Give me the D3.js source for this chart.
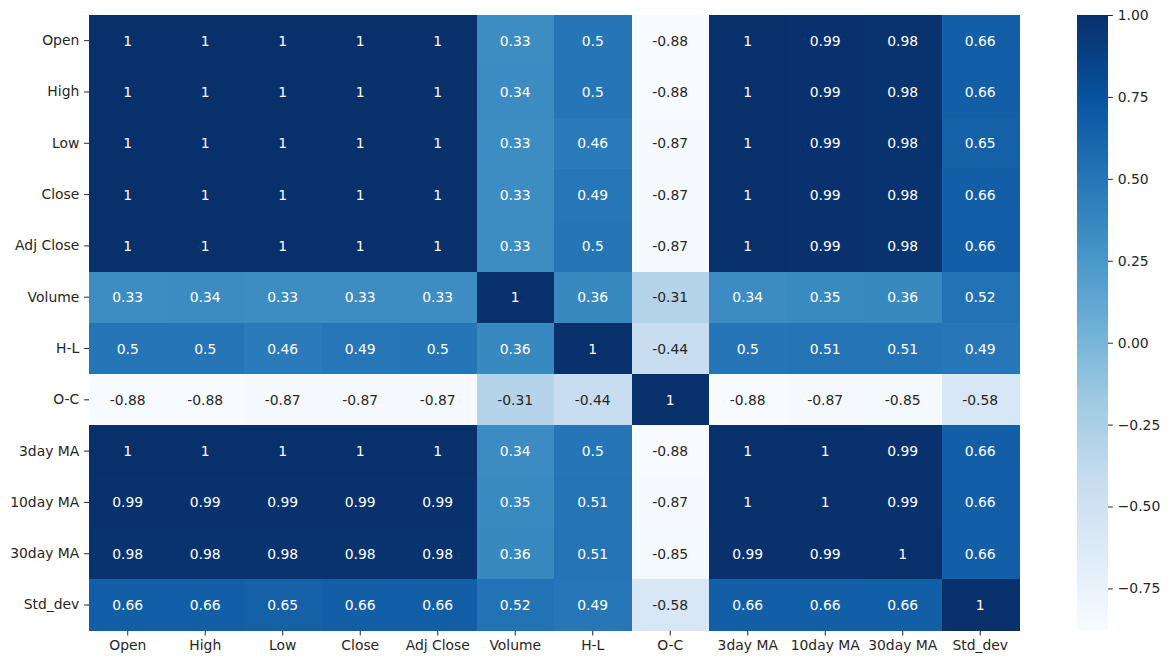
<!DOCTYPE html>
<html><head><meta charset="utf-8">
<script src="https://cdn.jsdelivr.net/npm/d3@7"></script>
<style>body{margin:0;background:#fff;} text{font-family:"DejaVu Sans",sans-serif;}</style>
</head><body>
<svg id="chart" width="1169" height="665"></svg>
<script>
const labels = ["Open","High","Low","Close","Adj Close","Volume","H-L","O-C","3day MA","10day MA","30day MA","Std_dev"];
const rowOpen     = [1,1,1,1,1,0.33,0.5,-0.88,1,0.99,0.98,0.66];
const rowHigh     = [1,1,1,1,1,0.34,0.5,-0.88,1,0.99,0.98,0.66];
const rowLow      = [1,1,1,1,1,0.33,0.46,-0.87,1,0.99,0.98,0.65];
const rowClose    = [1,1,1,1,1,0.33,0.49,-0.87,1,0.99,0.98,0.66];
const rowAdjClose = [1,1,1,1,1,0.33,0.5,-0.87,1,0.99,0.98,0.66];
const rowVolume   = [0.33,0.34,0.33,0.33,0.33,1,0.36,-0.31,0.34,0.35,0.36,0.52];
const rowHL       = [0.5,0.5,0.46,0.49,0.5,0.36,1,-0.44,0.5,0.51,0.51,0.49];
const rowOC       = [-0.88,-0.88,-0.87,-0.87,-0.87,-0.31,-0.44,1,-0.88,-0.87,-0.85,-0.58];
const row3MA      = [1,1,1,1,1,0.34,0.5,-0.88,1,1,0.99,0.66];
const row10MA     = [0.99,0.99,0.99,0.99,0.99,0.35,0.51,-0.87,1,1,0.99,0.66];
const row30MA     = [0.98,0.98,0.98,0.98,0.98,0.36,0.51,-0.85,0.99,0.99,1,0.66];
const rowStd      = [0.66,0.66,0.65,0.66,0.66,0.52,0.49,-0.58,0.66,0.66,0.66,1];
const matrix = [rowOpen,rowHigh,rowLow,rowClose,rowAdjClose,rowVolume,rowHL,rowOC,row3MA,row10MA,row30MA,rowStd];
const cbTicks = [1.00,0.75,0.50,0.25,0.00,-0.25,-0.50,-0.75];
const vmin = -0.879, vmax = 1.0;

const bluesHex = ["#f7fbff","#deebf7","#c6dbef","#9ecae1","#6baed6","#4292c6","#2171b5","#08519c","#08306b"];
const norm = d3.scaleLinear().domain([vmin, vmax]).range([0,1]).clamp(true);
const blues = d3.scaleLinear().domain(d3.range(9).map(i=>i/8)).range(bluesHex).interpolate(d3.interpolateRgb);
const color = v => blues(norm(v));

const svg = d3.select("#chart");
const L=89, R=1019, T=15, B=630.7;
const fs = "13.9px";
const tk = 4.86;
const x = d3.scaleBand().domain(labels).range([L,R]);
const y = d3.scaleBand().domain(labels).range([T,B]);

const cells = [];
matrix.forEach((row,i)=>row.forEach((v,j)=>cells.push({r:labels[i],c:labels[j],v})));

svg.append("g").selectAll("rect").data(cells).join("rect")
  .attr("x",d=>x(d.c)).attr("y",d=>y(d.r))
  .attr("width",x.bandwidth()+0.6).attr("height",y.bandwidth()+0.6)
  .attr("shape-rendering","crispEdges")
  .attr("fill",d=>color(d.v));

function lum(c){
  const rgb=d3.rgb(c);
  const f=u=>{u/=255;return u<=0.03928?u/12.92:Math.pow((u+0.055)/1.055,2.4);};
  return 0.2126*f(rgb.r)+0.7152*f(rgb.g)+0.0722*f(rgb.b);
}
svg.append("g").selectAll("text").data(cells).join("text")
  .attr("x",d=>x(d.c)+x.bandwidth()/2).attr("y",d=>y(d.r)+y.bandwidth()/2)
  .attr("text-anchor","middle").attr("dominant-baseline","central")
  .style("font-size",fs)
  .attr("fill",d=>lum(color(d.v))>0.408?"#262626":"#ffffff")
  .text(d=>String(d.v));

const ax = svg.append("g").attr("transform",`translate(0,${B})`)
  .call(d3.axisBottom(x).tickSize(tk).tickPadding(tk));
ax.select(".domain").remove();
ax.selectAll("text").style("font-size",fs).attr("fill","#262626");
ax.selectAll("line").attr("stroke","#262626");

const ay = svg.append("g").attr("transform",`translate(${L},0)`)
  .call(d3.axisLeft(y).tickSize(tk).tickPadding(tk));
ay.select(".domain").remove();
ay.selectAll("text").style("font-size",fs).attr("fill","#262626");
ay.selectAll("line").attr("stroke","#262626");

// colorbar
const cbL=1077, cbW=31;
const cy = d3.scaleLinear().domain([vmin,vmax]).range([B,T]);
const defs = svg.append("defs");
const grad = defs.append("linearGradient").attr("id","cbgrad").attr("x1",0).attr("y1",1).attr("x2",0).attr("y2",0);
grad.selectAll("stop").data(d3.range(9)).join("stop")
  .attr("offset",i=>i/8).attr("stop-color",i=>bluesHex[i]);
svg.append("rect").attr("x",cbL).attr("y",T).attr("width",cbW).attr("height",B-T).attr("fill","url(#cbgrad)");
const ac = svg.append("g").attr("transform",`translate(${cbL+cbW},0)`)
  .call(d3.axisRight(cy).tickValues(cbTicks).tickSize(tk).tickPadding(tk)
    .tickFormat(d=>d3.format(".2f")(d).replace("-","\u2212")));
ac.select(".domain").remove();
ac.selectAll("text").style("font-size",fs).attr("fill","#262626");
ac.selectAll("line").attr("stroke","#262626");
</script>
</body></html>
